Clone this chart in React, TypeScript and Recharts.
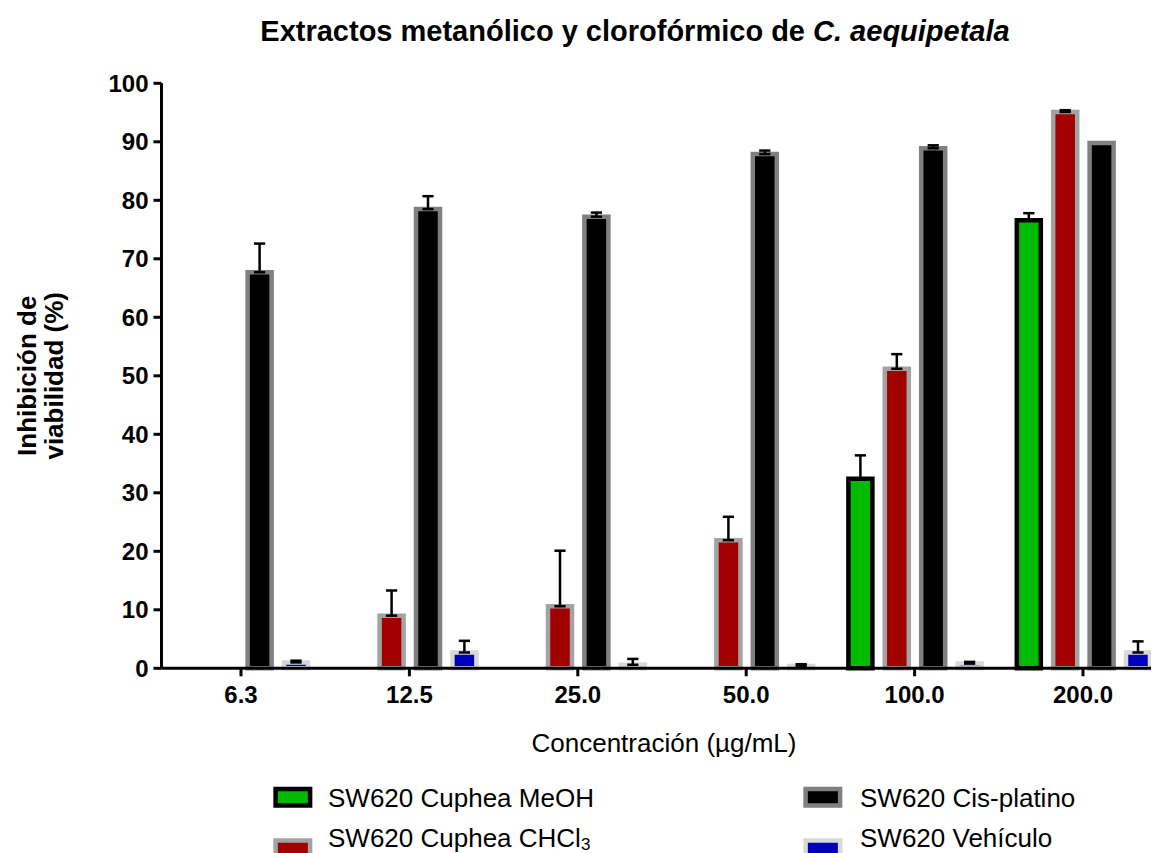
import React from 'react';
import { BarChart, Bar, XAxis, YAxis, ErrorBar } from 'recharts';

const categories = ['6.3', '12.5', '25.0', '50.0', '100.0', '200.0'];
const meohValues = [null, null, null, null, 32.4, 76.6];
const meohErrors = [null, null, null, null, 4.0, 1.2];
const chcl3Values = [null, 9.0, 10.6, 21.9, 51.2, 95.1];
const chcl3Errors = [null, 4.3, 9.5, 4.0, 2.5, 0.3];
const cisValues = [67.7, 78.5, 77.2, 87.9, 88.9, 89.8];
const cisErrors = [4.9, 2.2, 0.7, 0.6, 0.5, null];
const vehValues = [1.0, 2.7, 0.6, 0.4, 0.8, 2.7];
const vehErrors = [0.3, 2.0, 1.0, 0.3, 0.3, 1.9];
const yTicks = [0, 10, 20, 30, 40, 50, 60, 70, 80, 90, 100];

const titleMain = 'Extractos metanólico y clorofórmico de ';
const titleItalic = 'C. aequipetala';
const xLabel = 'Concentración (µg/mL)';
const yLabelLines = ['Inhibición de', 'viabilidad (%)'];

const series = [
  { key: 'meoh', err: 'meohErr', name: 'SW620 Cuphea MeOH', sub: '', fill: '#00bb00', stroke: '#000000' },
  { key: 'chcl3', err: 'chcl3Err', name: 'SW620 Cuphea CHCl', sub: '3', fill: '#a00000', stroke: '#a3a3a3' },
  { key: 'cis', err: 'cisErr', name: 'SW620 Cis-platino', sub: '', fill: '#000000', stroke: '#808080' },
  { key: 'veh', err: 'vehErr', name: 'SW620 Vehículo', sub: '', fill: '#0000bb', stroke: '#d8d8d8' },
];

const data = categories.map((c, i) => ({
  cat: c,
  meoh: meohValues[i],
  meohErr: meohErrors[i],
  chcl3: chcl3Values[i],
  chcl3Err: chcl3Errors[i],
  cis: cisValues[i],
  cisErr: cisErrors[i],
  veh: vehValues[i],
  vehErr: vehErrors[i],
}));

const FONT = '"Liberation Sans", Arial, Helvetica, sans-serif';

const legendSlots = [
  { sx: 267.6, sy: 781, tx: 320, ty: 798.6 },
  { sx: 267.6, sy: 832.5, tx: 320, ty: 839 },
  { sx: 797.6, sy: 781, tx: 852, ty: 798.6 },
  { sx: 797.6, sy: 832.5, tx: 852, ty: 839 },
];

export default function App() {
  return (
    <div style={{ position: 'relative', width: 1151, height: 845, overflow: 'hidden', background: '#fff' }}>
      <BarChart
        width={1161}
        height={845}
        data={data}
        margin={{ top: 75.3, right: 1.8, bottom: 124.7, left: 73.5 }}
        barSize={24}
        barGap={12.4}
      >
        <XAxis
          dataKey="cat"
          padding={{ left: -4.7, right: 0 }}
          height={60}
          axisLine={{ stroke: '#000', strokeWidth: 3 }}
          tickLine={{ stroke: '#000', strokeWidth: 3 }}
          tickSize={8}
          tickMargin={10}
          tick={{ fontSize: 24, fontWeight: 'bold', fill: '#000', fontFamily: FONT }}
          interval={0}
        />
        <YAxis
          type="number"
          domain={[0, 100]}
          ticks={yTicks}
          width={80}
          axisLine={{ stroke: '#000', strokeWidth: 3 }}
          tickLine={{ stroke: '#000', strokeWidth: 3 }}
          tickSize={8}
          tickMargin={5}
          tick={{ fontSize: 24, fontWeight: 'bold', fill: '#000', fontFamily: FONT }}
          interval={0}
        />
        {series.map((s) => (
          <Bar
            key={s.key}
            dataKey={s.key}
            name={s.name}
            fill={s.fill}
            stroke={s.stroke}
            strokeWidth={4.5}
            isAnimationActive={false}
          >
            <ErrorBar
              dataKey={(d: any) => (d[s.err] == null ? null : [0, d[s.err]])}
              direction="y"
              width={5.6}
              stroke="#000"
              strokeWidth={2.5}
              isAnimationActive={false}
            />
          </Bar>
        ))}
      </BarChart>
      <svg
        width={1151}
        height={845}
        style={{ position: 'absolute', left: 0, top: 0, pointerEvents: 'none' }}
        fontFamily={FONT}
      >
        <text x={627} y={32.8} textAnchor="middle" fontSize={29} fontWeight="bold" fill="#000">
          {titleMain}
          <tspan fontStyle="italic">{titleItalic}</tspan>
        </text>
        <text x={656} y={744} textAnchor="middle" fontSize={26} fill="#000">
          {xLabel}
        </text>
        <g transform="translate(0,367.8)">
          <text transform="translate(28,0) rotate(-90)" textAnchor="middle" fontSize={26} fontWeight="bold" fill="#000">
            {yLabelLines[0]}
          </text>
          <text transform="translate(55,0) rotate(-90)" textAnchor="middle" fontSize={26} fontWeight="bold" fill="#000">
            {yLabelLines[1]}
          </text>
        </g>
        {series.map((s, i) => {
          const p = legendSlots[i];
          return (
            <g key={s.key}>
              <rect x={p.sx} y={p.sy} width={34.5} height={16.5} fill={s.fill} stroke={s.stroke} strokeWidth={4.5} />
              <text x={p.tx} y={p.ty} fontSize={26} fill="#000">
                {s.name}
                {s.sub ? (
                  <tspan fontSize={17} dy={3}>
                    {s.sub}
                  </tspan>
                ) : null}
              </text>
            </g>
          );
        })}
      </svg>
    </div>
  );
}
